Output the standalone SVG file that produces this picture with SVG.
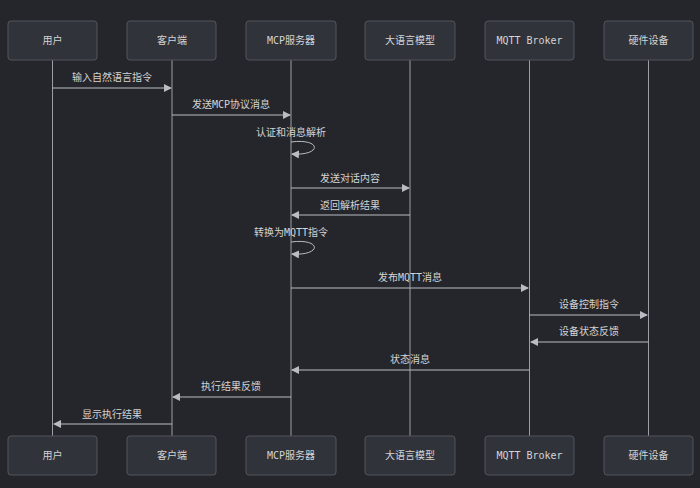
<svg xmlns="http://www.w3.org/2000/svg" width="700" height="488" viewBox="0 0 700 488">
<style>
.bg{fill:#25262b}
.actor rect{fill:#30333a;stroke:#51555d;stroke-width:1}
text{font-family:"DejaVu Sans Mono","Noto Sans CJK SC",monospace;font-size:10px;fill:#d4d4d6;text-anchor:middle}
.life{stroke:#9a9ea6;stroke-width:1}
.msg{stroke:#b9bcc2;stroke-width:1;fill:none;marker-end:url(#ah)}
</style>
<defs><marker id="ah" markerWidth="8" markerHeight="8" refX="7" refY="4" orient="auto" markerUnits="userSpaceOnUse"><path d="M0,0 L8,4 L0,8 Z" fill="#b9bcc2"/></marker></defs>
<rect class="bg" width="700" height="488"/>
<g id="lifelines">
<line class="life" x1="52.5" y1="60" x2="52.5" y2="436"/>
<line class="life" x1="172" y1="60" x2="172" y2="436"/>
<line class="life" x1="291" y1="60" x2="291" y2="436"/>
<line class="life" x1="410" y1="60" x2="410" y2="436"/>
<line class="life" x1="529.5" y1="60" x2="529.5" y2="436"/>
<line class="life" x1="648.5" y1="60" x2="648.5" y2="436"/>
</g>
<g id="user" class="actor"><rect x="8" y="21" width="89" height="39" rx="3"/><text x="52.5" y="44">用户</text><rect x="8" y="436" width="89" height="39" rx="3"/><text x="52.5" y="459">用户</text></g>
<g id="client" class="actor"><rect x="127" y="21" width="89" height="39" rx="3"/><text x="172" y="44">客户端</text><rect x="127" y="436" width="89" height="39" rx="3"/><text x="172" y="459">客户端</text></g>
<g id="mcp" class="actor"><rect x="246" y="21" width="90" height="39" rx="3"/><text x="291" y="44">MCP服务器</text><rect x="246" y="436" width="90" height="39" rx="3"/><text x="291" y="459">MCP服务器</text></g>
<g id="llm" class="actor"><rect x="365" y="21" width="90" height="39" rx="3"/><text x="410" y="44">大语言模型</text><rect x="365" y="436" width="90" height="39" rx="3"/><text x="410" y="459">大语言模型</text></g>
<g id="broker" class="actor"><rect x="485" y="21" width="89" height="39" rx="3"/><text x="529.5" y="44">MQTT Broker</text><rect x="485" y="436" width="89" height="39" rx="3"/><text x="529.5" y="459">MQTT Broker</text></g>
<g id="device" class="actor"><rect x="604" y="21" width="89" height="39" rx="3"/><text x="648.5" y="44">硬件设备</text><rect x="604" y="436" width="89" height="39" rx="3"/><text x="648.5" y="459">硬件设备</text></g>
<g id="connectors">
<line class="msg" x1="52.5" y1="88" x2="171" y2="88"/><text x="112" y="81">输入自然语言指令</text>
<line class="msg" x1="172" y1="115" x2="290" y2="115"/><text x="231" y="108">发送MCP协议消息</text>
<path class="msg" d="M291,142 C322,138 322,156 292,154"/><text x="291" y="136">认证和消息解析</text>
<line class="msg" x1="291" y1="188" x2="409" y2="188"/><text x="350" y="182">发送对话内容</text>
<line class="msg" x1="410" y1="215" x2="292" y2="215"/><text x="350" y="209">返回解析结果</text>
<path class="msg" d="M291,242 C322,238 322,256 292,254"/><text x="291" y="236">转换为MQTT指令</text>
<line class="msg" x1="291" y1="288" x2="528" y2="288"/><text x="410" y="281">发布MQTT消息</text>
<line class="msg" x1="529.5" y1="315" x2="647" y2="315"/><text x="589" y="308">设备控制指令</text>
<line class="msg" x1="648.5" y1="342" x2="531" y2="342"/><text x="589" y="335">设备状态反馈</text>
<line class="msg" x1="529.5" y1="370" x2="292" y2="370"/><text x="410" y="363">状态消息</text>
<line class="msg" x1="291" y1="397" x2="173" y2="397"/><text x="231" y="390">执行结果反馈</text>
<line class="msg" x1="172" y1="424" x2="54" y2="424"/><text x="112" y="418">显示执行结果</text>
</g>
</svg>
